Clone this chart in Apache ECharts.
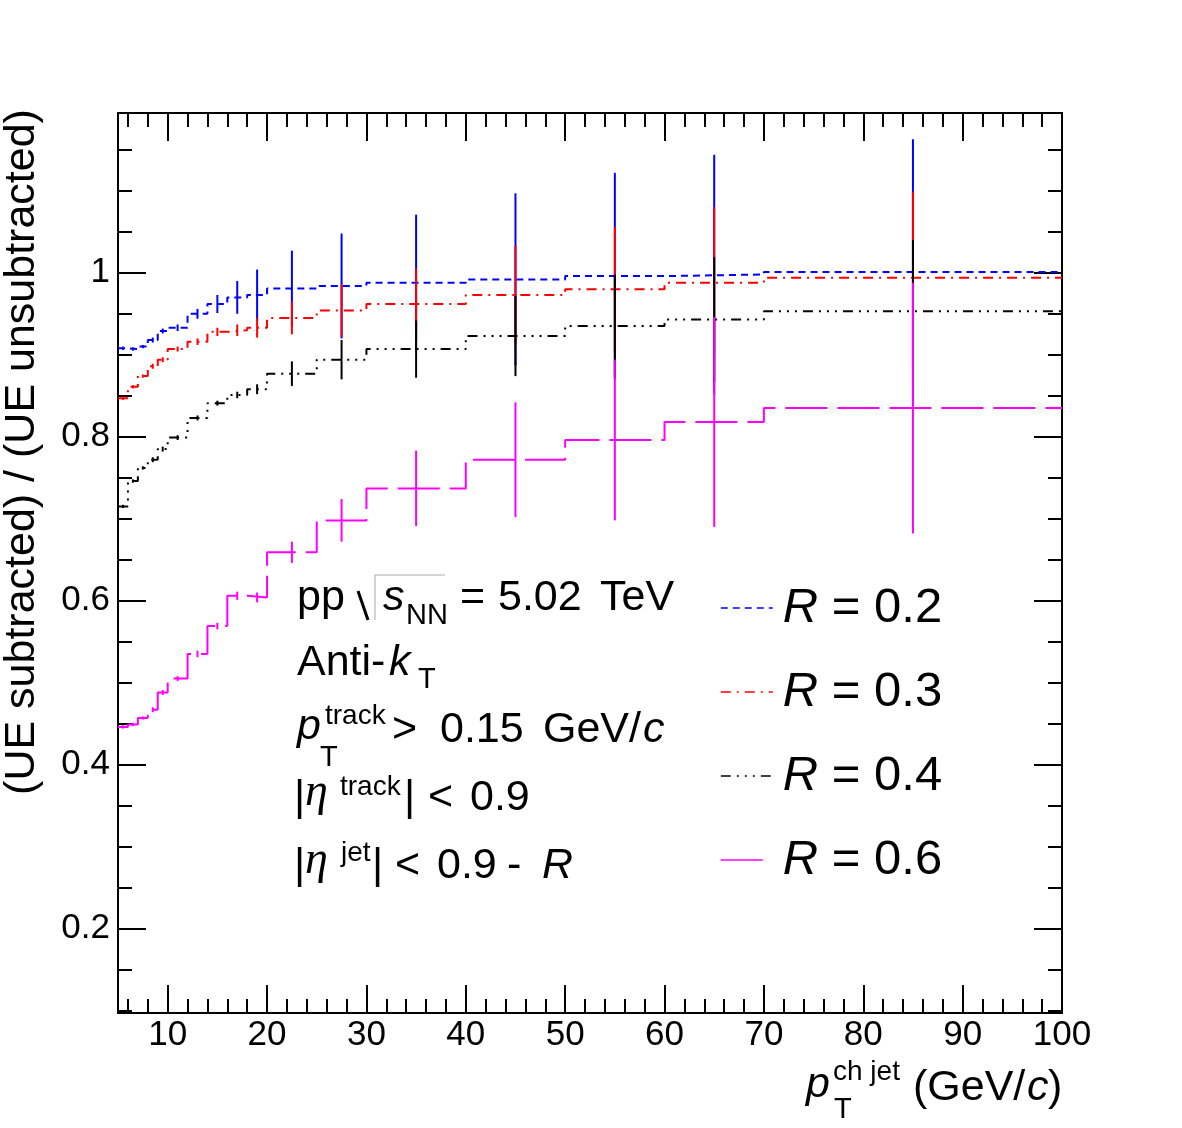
<!DOCTYPE html>
<html>
<head>
<meta charset="utf-8">
<script src="https://cdn.jsdelivr.net/npm/echarts@6.0.0/dist/echarts.min.js"></script>
<style>
  html, body { margin: 0; padding: 0; background: #fff; }
  #chart { width: 1182px; height: 1128px; }
</style>
</head>
<body>
<div id="chart"></div>
<script>
// bin edges / centres in pT (GeV/c)
const binEdges = [5, 6, 7, 8, 9, 10, 12, 14, 16, 18, 20, 25, 30, 40, 50, 60, 70, 100];
const binCenters = [5.5, 6.5, 7.5, 8.5, 9.5, 11, 13, 15, 17, 19, 22.5, 27.5, 35, 45, 55, 65, 85];

const seriesNames = ['R = 0.2', 'R = 0.3', 'R = 0.4', 'R = 0.6'];

// ratio (UE subtracted) / (UE unsubtracted), one value per bin
const ratioR02 = [0.908, 0.907, 0.910, 0.918, 0.929, 0.933, 0.950, 0.962, 0.970, 0.973, 0.981, 0.984, 0.988, 0.992, 0.996, 0.998, 1.001];
const errR02 = [0.002, 0.002, 0.002, 0.003, 0.003, 0.004, 0.006, 0.011, 0.020, 0.031, 0.046, 0.064, 0.083, 0.105, 0.126, 0.146, 0.162];
const ratioR03 = [0.847, 0.861, 0.874, 0.886, 0.894, 0.907, 0.916, 0.928, 0.930, 0.933, 0.945, 0.954, 0.962, 0.973, 0.980, 0.988, 0.994];
const errR03 = [0.002, 0.002, 0.002, 0.003, 0.003, 0.003, 0.004, 0.005, 0.007, 0.012, 0.020, 0.032, 0.043, 0.060, 0.076, 0.092, 0.105];
const ratioR04 = [0.715, 0.746, 0.762, 0.772, 0.785, 0.799, 0.823, 0.841, 0.851, 0.858, 0.877, 0.894, 0.907, 0.923, 0.935, 0.943, 0.953];
const errR04 = [0.002, 0.002, 0.002, 0.003, 0.003, 0.003, 0.003, 0.003, 0.004, 0.006, 0.015, 0.024, 0.035, 0.049, 0.063, 0.076, 0.087];
const ratioR06 = [0.446, 0.449, 0.457, 0.467, 0.488, 0.505, 0.535, 0.569, 0.606, 0.604, 0.659, 0.698, 0.737, 0.772, 0.796, 0.818, 0.835];
const errR06 = [0.002, 0.002, 0.002, 0.003, 0.003, 0.003, 0.004, 0.004, 0.005, 0.006, 0.013, 0.026, 0.046, 0.070, 0.098, 0.128, 0.153];

// ticks
const xMajorTicks = [10, 20, 30, 40, 50, 60, 70, 80, 90, 100];
const xMinorTicks = [6, 8, 12, 14, 16, 18, 22, 24, 26, 28, 32, 34, 36, 38, 42, 44, 46, 48,
  52, 54, 56, 58, 62, 64, 66, 68, 72, 74, 76, 78, 82, 84, 86, 88, 92, 94, 96, 98];
const yMajorTicks = [0.2, 0.4, 0.6, 0.8, 1];
const yMinorTicks = [0.1, 0.15, 0.25, 0.3, 0.35, 0.45, 0.5, 0.55, 0.65, 0.7, 0.75, 0.85, 0.9, 0.95, 1.05, 1.1, 1.15];

const FONT = '"Liberation Sans", Arial, Helvetica, sans-serif';
const SERIF = '"Liberation Serif", "DejaVu Serif", serif';

const colors = ['#0000ff', '#ff0000', '#000000', '#ff00ff'];
// ROOT line styles 2, 5, 6, 9
const dashes = [[7, 5], [10, 6, 2, 6], [10, 6, 2, 6, 2, 6, 2, 6], [42, 10]];

const ratios = [ratioR02, ratioR03, ratioR04, ratioR06];
const errors = [errR02, errR03, errR04, errR06];

// step histogram from bin edges
function histSeries(i) {
  const vals = ratios[i];
  return {
    name: seriesNames[i],
    type: 'line',
    step: 'end',
    symbol: 'none',
    z: 2 + i,
    xAxisIndex: 0,
    yAxisIndex: 0,
    lineStyle: { color: colors[i], width: 2, type: dashes[i] },
    itemStyle: { color: colors[i] },
    data: binEdges.map((e, k) => [e, vals[Math.min(k, vals.length - 1)]])
  };
}

// vertical error bars at bin centres
function errSeries(i) {
  return {
    name: seriesNames[i] + ' err',
    type: 'custom',
    z: 2 + i,
    xAxisIndex: 0,
    yAxisIndex: 0,
    silent: true,
    renderItem: (params, api) => {
      const x = api.value(0), y = api.value(1), e = api.value(2);
      const top = api.coord([x, y + e]);
      const bot = api.coord([x, y - e]);
      return {
        type: 'line',
        shape: { x1: top[0], y1: top[1], x2: bot[0], y2: bot[1] },
        style: { stroke: colors[i], lineWidth: 2 }
      };
    },
    encode: { x: 0, y: 1 },
    data: binCenters.map((c, k) => [c, ratios[i][k], errors[i][k]])
  };
}

const frameLine = { show: true, onZero: false, lineStyle: { color: '#000', width: 2 } };

function makeXAxis(grid, pos, ticks, len, labels) {
  return {
    type: 'value', gridIndex: grid, position: pos, min: 5, max: 100,
    axisLine: frameLine,
    axisTick: { show: true, inside: true, length: len, customValues: ticks, lineStyle: { color: '#000', width: 2 } },
    axisLabel: labels ? {
      show: true, customValues: xMajorTicks, margin: 5,
      fontSize: 35, fontFamily: FONT, color: '#000'
    } : { show: false },
    splitLine: { show: false }
  };
}

function makeYAxis(grid, pos, ticks, len, labels) {
  return {
    type: 'value', gridIndex: grid, position: pos, min: 0.097, max: 1.195,
    axisLine: frameLine,
    axisTick: { show: true, inside: true, length: len, customValues: ticks, lineStyle: { color: '#000', width: 2 } },
    axisLabel: labels ? {
      show: true, customValues: yMajorTicks, margin: 8,
      fontSize: 35, fontFamily: FONT, color: '#000'
    } : { show: false },
    splitLine: { show: false }
  };
}

// text helper: place by baseline
function txt(str, x, base, size, italic, family) {
  return {
    type: 'text', x: x, y: base - 0.3465 * size, z: 10,
    style: {
      text: str, fill: '#000', fontSize: size,
      fontFamily: family || FONT, fontStyle: italic ? 'italic' : 'normal',
      align: 'left', verticalAlign: 'middle',
      textAlign: 'left', textVerticalAlign: 'middle'
    }
  };
}

const labels = [
  // pp sqrt(s_NN) = 5.02 TeV
  txt('pp', 297, 613, 43),
  { type: 'line', z: 10, shape: { x1: 358, y1: 591, x2: 368, y2: 620 }, style: { stroke: '#000', lineWidth: 3 } },
  { type: 'polyline', z: 10, shape: { points: [[375, 620], [375, 575], [445, 575]] }, style: { stroke: '#aaa', lineWidth: 1, fill: null } },
  txt('s', 383, 613, 43, true),
  txt('NN', 406, 626, 29),
  txt('=', 460, 613, 43),
  txt('5.02', 498, 613, 43),
  txt('TeV', 600, 613, 43),
  // Anti-kT
  txt('Anti-', 297, 678, 43),
  txt('k', 389, 678, 43, true),
  txt('T', 418, 690, 29),
  // pT track > 0.15 GeV/c
  txt('p', 297, 742, 43, true),
  txt('track', 325, 726, 28),
  txt('T', 320, 768, 29),
  txt('>', 392, 745, 43),
  txt('0.15', 440, 745, 43),
  txt('GeV/', 543, 745, 43),
  txt('c', 643, 745, 43, true),
  // |eta track| < 0.9
  txt('|', 294, 813, 43),
  txt('η', 305, 809, 46, true, SERIF),
  txt('track', 340, 797, 28),
  txt('|', 404, 813, 43),
  txt('<', 428, 813, 43),
  txt('0.9', 470, 813, 43),
  // |eta jet| < 0.9 - R
  txt('|', 294, 881, 43),
  txt('η', 305, 877, 46, true, SERIF),
  txt('jet', 341, 863, 28),
  txt('|', 372, 881, 43),
  txt('<', 395, 881, 43),
  txt('0.9', 437, 881, 43),
  txt('-', 507, 881, 43),
  txt('R', 542, 881, 43, true),
  // x axis title
  txt('p', 806, 1100, 43, true),
  txt('ch jet', 833, 1082, 28),
  txt('T', 834, 1120, 29),
  txt('(GeV/', 913, 1103, 43),
  txt('c', 1027, 1103, 43, true),
  txt(')', 1048, 1103, 43),
  // y axis title
  {
    type: 'text', x: 22, y: 452, rotation: Math.PI / 2, z: 10,
    style: {
      text: '(UE subtracted) / (UE unsubtracted)', fill: '#000',
      fontSize: 43, fontFamily: FONT,
      align: 'center', verticalAlign: 'middle',
      textAlign: 'center', textVerticalAlign: 'middle'
    }
  }
];

const gridBox = { left: 118, right: 120, top: 113, bottom: 115, containLabel: false, outerBoundsMode: 'none' };

const option = {
  animation: false,
  backgroundColor: '#fff',
  grid: [Object.assign({}, gridBox), Object.assign({}, gridBox)],
  xAxis: [
    makeXAxis(0, 'bottom', xMajorTicks, 28, true),
    makeXAxis(0, 'top', xMajorTicks, 28, false),
    makeXAxis(1, 'bottom', xMinorTicks, 14, false),
    makeXAxis(1, 'top', xMinorTicks, 14, false)
  ],
  yAxis: [
    makeYAxis(0, 'left', yMajorTicks, 28, true),
    makeYAxis(0, 'right', yMajorTicks, 28, false),
    makeYAxis(1, 'left', yMinorTicks, 14, false),
    makeYAxis(1, 'right', yMinorTicks, 14, false)
  ],
  legend: {
    data: seriesNames,
    orient: 'vertical',
    left: 720,
    top: 583,
    padding: 0,
    itemWidth: 52,
    itemHeight: 14,
    itemGap: 34,
    selectedMode: false,
    // line only, no marker dot
    itemStyle: { opacity: 0, borderWidth: 0 },
    lineStyle: { width: 1.6 },
    formatter: name => '{i|R}{n| = ' + name.split('= ')[1] + '}',
    textStyle: {
      color: '#000', fontSize: 49, fontFamily: FONT, lineHeight: 50,
      rich: {
        i: { fontStyle: 'italic', fontSize: 49, fontFamily: FONT, lineHeight: 50, padding: [0, 0, 0, 5], color: '#000' },
        n: { fontSize: 49, fontFamily: FONT, lineHeight: 50, color: '#000' }
      }
    }
  },
  graphic: labels,
  series: [0, 1, 2, 3].flatMap(i => [histSeries(i), errSeries(i)])
};

const myChart = echarts.init(document.getElementById('chart'));
myChart.setOption(option);
</script>
</body>
</html>
